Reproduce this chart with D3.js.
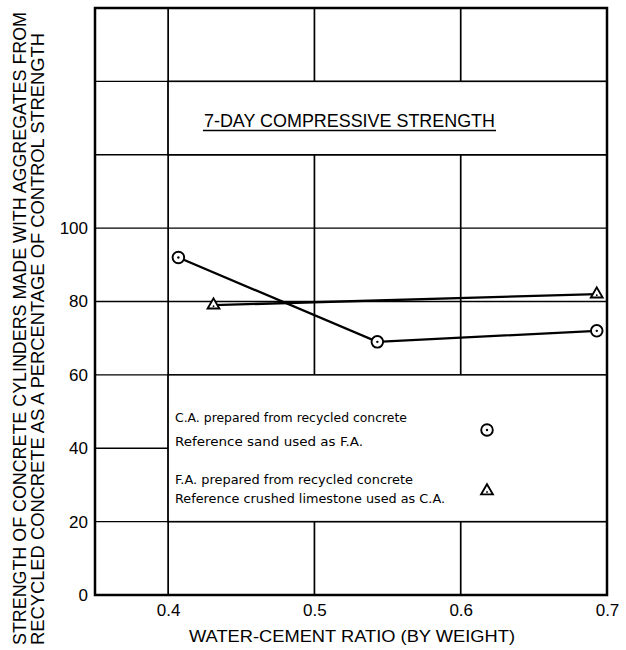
<!DOCTYPE html>
<html>
  <head>
    <meta charset="utf-8">
    <title>7-day compressive strength</title>
    <style>
      body { margin: 0; background: #fff; }
      svg { font-family: "Liberation Sans", Arial, sans-serif; }
    </style>
    <script src="https://d3js.org/d3.v7.min.js"></script>
  </head>
  <body>
    <script>

        // C.A. prepared from recycled concrete (circles)
        var caRatio = [0.407, 0.543, 0.693];
        var caStrength = [92, 69, 72];

        // F.A. prepared from recycled concrete (triangles)
        var faRatio = [0.431, 0.693];
        var faStrength = [79, 82];

        var xTicks = [0.4, 0.5, 0.6, 0.7];
        var yTicks = [0, 20, 40, 60, 80, 100];
        var yGrid = [20, 40, 60, 80, 100, 120, 140];

        var legendLines = [
            "C.A. prepared from recycled concrete",
            "Reference sand used as F.A.",
            "F.A. prepared from recycled concrete",
            "Reference crushed limestone used as C.A."
        ];

        var width = 626;
        var height = 650;

        var svg = d3.select("body").append("svg")
            .attr("width", width)
            .attr("height", height);

        var x = d3.scaleLinear().domain([0.35, 0.7]).range([95, 607]);
        var y = d3.scaleLinear().domain([0, 160]).range([595, 8]);

        // grid lines
        svg.append("g").selectAll("line").data(xTicks.slice(0, 3))
            .enter().append("line")
            .attr("x1", function (d) { return x(d); })
            .attr("x2", function (d) { return x(d); })
            .attr("y1", y(0)).attr("y2", y(160))
            .attr("stroke", "#000").attr("stroke-width", 1.7);

        svg.append("g").selectAll("line").data(yGrid)
            .enter().append("line")
            .attr("x1", x(0.35)).attr("x2", x(0.7))
            .attr("y1", function (d) { return y(d); })
            .attr("y2", function (d) { return y(d); })
            .attr("stroke", "#000").attr("stroke-width", 1.4);

        // title box and legend box (white panels on the grid)
        var boxes = [[120, 140], [20, 60]];
        svg.append("g").selectAll("rect").data(boxes)
            .enter().append("rect")
            .attr("x", x(0.4))
            .attr("width", x(0.7) - x(0.4))
            .attr("y", function (d) { return y(d[1]); })
            .attr("height", function (d) { return y(d[0]) - y(d[1]); })
            .attr("fill", "#fff")
            .attr("stroke", "#000")
            .attr("stroke-width", 1.5);

        // frame
        svg.append("rect")
            .attr("x", x(0.35)).attr("y", y(160))
            .attr("width", x(0.7) - x(0.35))
            .attr("height", y(0) - y(160))
            .attr("fill", "none")
            .attr("stroke", "#000")
            .attr("stroke-width", 2.5);

        // title
        svg.append("text")
            .attr("x", 204).attr("y", 127)
            .attr("font-size", 18)
            .attr("textLength", 291)
            .attr("lengthAdjust", "spacingAndGlyphs")
            .text("7-DAY COMPRESSIVE STRENGTH");
        svg.append("line")
            .attr("x1", 203).attr("x2", 496)
            .attr("y1", 130.5).attr("y2", 130.5)
            .attr("stroke", "#000").attr("stroke-width", 1.7);

        // axes
        var xAxis = svg.append("g")
            .attr("transform", "translate(0," + y(0) + ")")
            .call(d3.axisBottom(x).tickValues(xTicks).tickSize(0).tickPadding(9)
                .tickFormat(d3.format(".1f")));
        xAxis.select(".domain").remove();
        xAxis.selectAll("text").attr("font-size", 17).attr("font-family", "Liberation Sans, Arial, sans-serif");

        var yAxis = svg.append("g")
            .attr("transform", "translate(" + x(0.35) + ",0)")
            .call(d3.axisLeft(y).tickValues(yTicks).tickSize(0).tickPadding(7));
        yAxis.select(".domain").remove();
        yAxis.selectAll("text").attr("font-size", 17).attr("font-family", "Liberation Sans, Arial, sans-serif");

        svg.append("text")
            .attr("x", 189).attr("y", 642)
            .attr("font-size", 16.5)
            .attr("textLength", 326)
            .attr("lengthAdjust", "spacingAndGlyphs")
            .text("WATER-CEMENT RATIO (BY WEIGHT)");

        svg.append("text")
            .attr("transform", "translate(26,645) rotate(-90)")
            .attr("font-size", 18)
            .attr("textLength", 633)
            .attr("lengthAdjust", "spacingAndGlyphs")
            .text("STRENGTH OF CONCRETE CYLINDERS MADE WITH AGGREGATES FROM");
        svg.append("text")
            .attr("transform", "translate(44,645) rotate(-90)")
            .attr("font-size", 18)
            .attr("textLength", 612)
            .attr("lengthAdjust", "spacingAndGlyphs")
            .text("RECYCLED CONCRETE AS A PERCENTAGE OF CONTROL STRENGTH");

        // data lines
        var line = d3.line()
            .x(function (d) { return x(d[0]); })
            .y(function (d) { return y(d[1]); });

        var caData = d3.zip(caRatio, caStrength);
        var faData = d3.zip(faRatio, faStrength);

        svg.append("path").datum(caData)
            .attr("d", line).attr("fill", "none")
            .attr("stroke", "#000").attr("stroke-width", 2.3);
        svg.append("path").datum(faData)
            .attr("d", line).attr("fill", "none")
            .attr("stroke", "#000").attr("stroke-width", 2.3);

        // markers
        function circleMark(g) {
            g.append("circle").attr("r", 5.8).attr("fill", "#fff")
                .attr("stroke", "#000").attr("stroke-width", 1.9);
            g.append("circle").attr("r", 1.2).attr("fill", "#000");
        }
        function triMark(g) {
            g.append("path").attr("d", d3.symbol(d3.symbolTriangle, 60)())
                .attr("fill", "#fff").attr("stroke", "#000").attr("stroke-width", 1.9);
            g.append("circle").attr("r", 0.9).attr("cy", 1).attr("fill", "#000");
        }

        svg.append("g").selectAll("g").data(caData)
            .enter().append("g")
            .attr("transform", function (d) { return "translate(" + x(d[0]) + "," + y(d[1]) + ")"; })
            .each(function () { circleMark(d3.select(this)); });

        svg.append("g").selectAll("g").data(faData)
            .enter().append("g")
            .attr("transform", function (d) { return "translate(" + x(d[0]) + "," + y(d[1]) + ")"; })
            .each(function () { triMark(d3.select(this)); });

        // legend
        var legendY = [422, 446, 484, 503];
        var legendW = [232, 188, 238, 270];
        svg.append("g").selectAll("text").data(legendLines)
            .enter().append("text")
            .attr("x", 175)
            .attr("y", function (d, i) { return legendY[i]; })
            .attr("font-family", "DejaVu Sans, sans-serif")
            .attr("font-size", 12.5)
            .attr("textLength", function (d, i) { return legendW[i]; })
            .attr("lengthAdjust", "spacingAndGlyphs")
            .text(function (d) { return d; });

        circleMark(svg.append("g").attr("transform", "translate(487,430)"));
        triMark(svg.append("g").attr("transform", "translate(487,491)"));

    </script>
  </body>
</html>
